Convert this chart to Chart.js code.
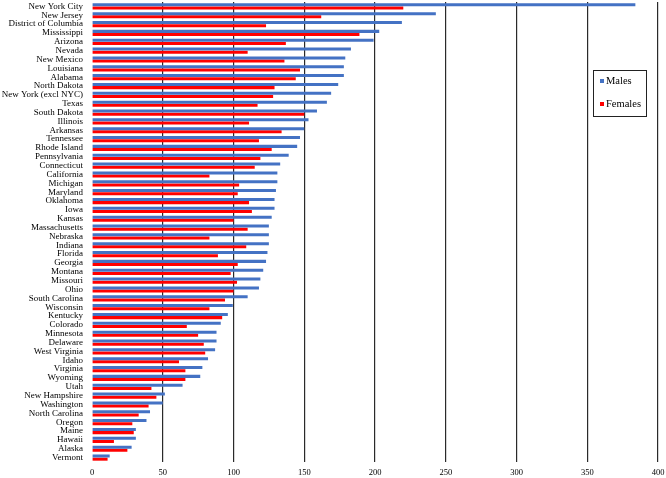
<!DOCTYPE html>
<html>
<head>
<meta charset="utf-8">
<script src="https://cdn.jsdelivr.net/npm/chart.js@4"></script>
<style>
  html, body { margin: 0; padding: 0; background: #fff; }
  #wrap { width: 666px; height: 478px; }
</style>
</head>
<body>
<div id="wrap"><canvas id="chart" width="666" height="478"></canvas></div>
<script>
const states = ['New York City', 'New Jersey', 'District of Columbia', 'Mississippi', 'Arizona', 'Nevada',
  'New Mexico', 'Louisiana', 'Alabama', 'North Dakota', 'New York (excl NYC)', 'Texas', 'South Dakota',
  'Illinois', 'Arkansas', 'Tennessee', 'Rhode Island', 'Pennsylvania', 'Connecticut', 'California',
  'Michigan', 'Maryland', 'Oklahoma', 'Iowa', 'Kansas', 'Massachusetts', 'Nebraska', 'Indiana', 'Florida',
  'Georgia', 'Montana', 'Missouri', 'Ohio', 'South Carolina', 'Wisconsin', 'Kentucky', 'Colorado',
  'Minnesota', 'Delaware', 'West Virginia', 'Idaho', 'Virginia', 'Wyoming', 'Utah', 'New Hampshire',
  'Washington', 'North Carolina', 'Oregon', 'Maine', 'Hawaii', 'Alaska', 'Vermont'];

const males = [384, 243, 219, 203, 199, 183, 179, 178, 178, 174, 169, 166, 159,
  153, 150, 147, 145, 139, 133, 131, 131, 130, 129, 129, 127, 125,
  125, 125, 124, 123, 121, 119, 118, 110, 99.5, 96, 91, 88, 88,
  87, 82, 78, 76.5, 64, 51.5, 50, 41, 38.5, 31, 31, 28, 12.5];

const females = [220, 162, 123, 189, 137, 110, 136, 147, 144, 129, 128, 117, 150,
  111, 134, 118, 127, 119, 115, 83, 104, 103, 111, 113, 100, 110,
  83, 109, 89, 103, 98, 102.5, 100, 94, 83, 92, 67, 75, 79,
  80, 61.5, 66, 66, 42, 45.5, 40, 33, 28.5, 29.5, 15.5, 25, 11];

const xTicks = [0, 50, 100, 150, 200, 250, 300, 350, 400];

const BLUE = '#4472C4';
const RED = '#FF0000';
const SERIF = '"Liberation Serif", "DejaVu Serif", serif';

/* === Legend box inside the plot === */
const boxLegendPlugin = {
  id: 'boxLegend',
  afterDraw(chart) {
    const ctx = chart.ctx;
    const x = 593, y = 70, w = 53, h = 46;
    ctx.save();
    ctx.fillStyle = '#fff';
    ctx.fillRect(x, y, w, h);
    ctx.strokeStyle = '#222';
    ctx.lineWidth = 1;
    ctx.strokeRect(x + 0.5, y + 0.5, w, h);
    ctx.font = '10.5px ' + SERIF;
    ctx.textBaseline = 'middle';
    chart.data.datasets.forEach((ds, i) => {
      const ly = y + 11 + i * 23;
      ctx.fillStyle = ds.backgroundColor;
      ctx.fillRect(x + 7, ly - 2, 4, 4);
      ctx.fillStyle = '#000';
      ctx.fillText(ds.label, x + 13, ly);
    });
    ctx.restore();
  }
};

new Chart(document.getElementById('chart'), {
  type: 'bar',
  data: {
    labels: states,
    datasets: [
      { label: 'Males', data: males, backgroundColor: BLUE, borderWidth: 0 },
      { label: 'Females', data: females, backgroundColor: RED, borderWidth: 0 }
    ]
  },
  options: {
    indexAxis: 'y',
    responsive: false,
    animation: false,
    layout: { padding: { top: 2, right: 8, bottom: 0, left: 0 } },
    datasets: { bar: { categoryPercentage: 0.72, barPercentage: 0.95 } },
    scales: {
      x: {
        min: 0,
        max: 400,
        afterBuildTicks(scale) { scale.ticks = xTicks.map(v => ({ value: v })); },
        afterFit(scale) { scale.height = 16; scale.paddingLeft = 0; scale.paddingRight = 0; },
        border: { display: false },
        grid: {
          drawTicks: false,
          color: ctx => ctx.tick && ctx.tick.value === 0 ? 'rgba(0,0,0,0)' : '#2a2a2a',
          lineWidth: 1.2
        },
        ticks: { padding: 6, color: '#000', font: { family: SERIF, size: 8.5 } }
      },
      y: {
        afterFit(scale) { scale.width = 92; scale.paddingTop = 0; scale.paddingBottom = 0; },
        border: { display: false },
        grid: { display: false, drawTicks: false },
        ticks: { padding: 9, color: '#000', autoSkip: false, font: { family: SERIF, size: 9 } }
      }
    },
    plugins: {
      legend: { display: false },
      tooltip: { enabled: false }
    }
  },
  plugins: [boxLegendPlugin]
});
</script>
</body>
</html>
